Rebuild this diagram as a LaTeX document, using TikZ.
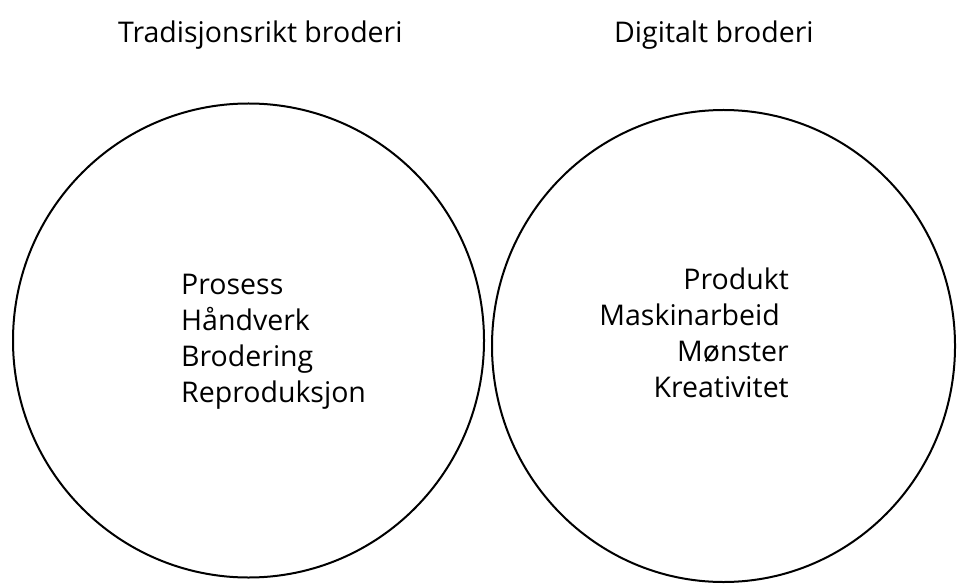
\documentclass[tikz,border=0pt]{standalone}
\usepackage{fontspec}
\setmainfont{Open Sans}
\begin{document}
\begin{tikzpicture}[x=1pt,y=-1pt,
  ring/.style={draw=black,line width=2pt},
  lbl/.style={inner sep=0pt,font=\fontsize{28.5}{34}\selectfont}]
\useasboundingbox (0,0) rectangle (957,585);
\fill[white] (0,0) rectangle (957,585);
\draw[ring] (248.5,340.5) ellipse [x radius=235.5pt,y radius=237pt];
\draw[ring] (723.5,346) ellipse [x radius=231.5pt,y radius=236pt];
\node[lbl,anchor=base west] (t1) at (118,43) {Tradisjonsrikt broderi};
\node[lbl,anchor=base west] (t2) at (614,43) {Digitalt broderi};
\node[lbl,anchor=base west] (l1) at (181,294) {Prosess};
\node[lbl,anchor=base west] (l2) at (181,330) {Håndverk};
\node[lbl,anchor=base west] (l3) at (181,366) {Brodering};
\node[lbl,anchor=base west] (l4) at (181,402) {Reproduksjon};
\node[lbl,anchor=base east] (r1) at (789,289) {Produkt};
\node[lbl,anchor=base east] (r2) at (780,325) {Maskinarbeid};
\node[lbl,anchor=base east] (r3) at (789,361) {Mønster};
\node[lbl,anchor=base east] (r4) at (789,397) {Kreativitet};
\end{tikzpicture}
\end{document}
